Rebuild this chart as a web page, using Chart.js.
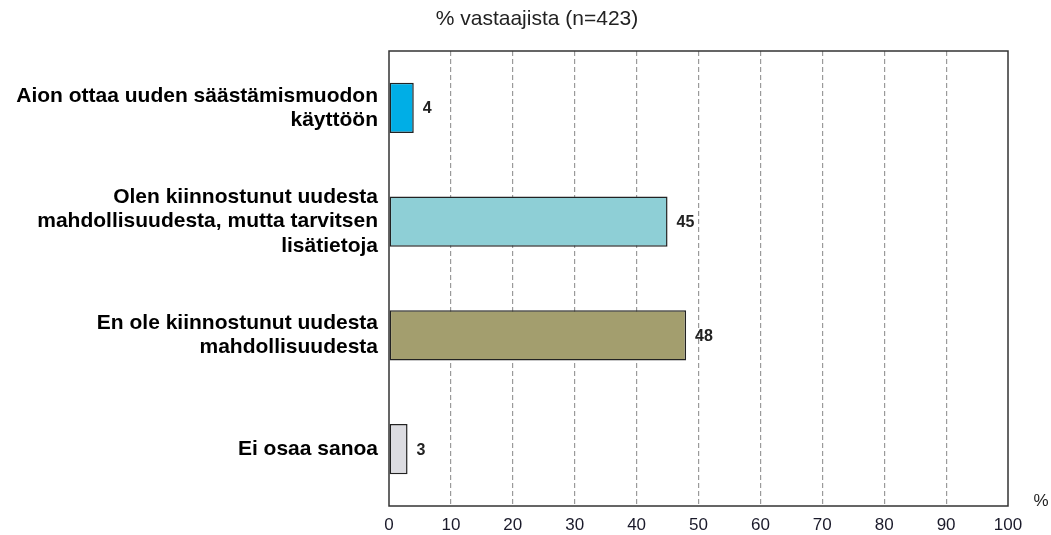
<!DOCTYPE html>
<html><head><meta charset="utf-8">
<script src="https://cdn.jsdelivr.net/npm/chart.js@4"></script>
<style>html,body{margin:0;padding:0;background:#fff}#w{width:1051px;height:535px}</style>
</head><body><div id="w"><canvas id="c" width="1051" height="535" style="width:1051px;height:535px"></canvas></div>
<script>
const categories = [
  ["Aion ottaa uuden säästämismuodon", "käyttöön"],
  ["Olen kiinnostunut uudesta", "mahdollisuudesta, mutta tarvitsen", "lisätietoja"],
  ["En ole kiinnostunut uudesta", "mahdollisuudesta"],
  ["Ei osaa sanoa"]
];
const values = [4, 45, 48, 3];
const barColors = ["#00AEE6", "#8ECFD6", "#A39E6E", "#DCDCE1"];
const xTicks = [0,10,20,30,40,50,60,70,80,90,100];
const titleText = "% vastaajista (n=423)";
const unitText = "%";

const deco = {
  id: 'deco',
  afterDatasetsDraw(chart) {
    const ctx = chart.ctx, a = chart.chartArea;
    ctx.save();
    ctx.strokeStyle = '#333';
    ctx.lineWidth = 1.5;
    ctx.strokeRect(a.left, a.top, a.right - a.left, a.bottom - a.top);
    const meta = chart.getDatasetMeta(0);
    ctx.fillStyle = '#222';
    ctx.font = 'bold 16px "Liberation Sans", Arial, sans-serif';
    ctx.textBaseline = 'middle';
    ctx.textAlign = 'left';
    meta.data.forEach((b, i) => {
      ctx.fillText(String(values[i]), b.x + 9, b.y + 1);
    });
    ctx.font = '21px "Liberation Sans", Arial, sans-serif';
    ctx.fillStyle = '#222';
    ctx.textAlign = 'center';
    ctx.fillText(titleText, 537, 19);
    ctx.font = '17px "Liberation Sans", Arial, sans-serif';
    ctx.fillText(unitText, 1041, 501);
    ctx.restore();
  }
};

new Chart(document.getElementById('c'), {
  type: 'bar',
  data: {
    labels: categories,
    datasets: [{
      data: values,
      backgroundColor: barColors,
      borderColor: '#222',
      borderWidth: 1.5,
      borderSkipped: false,
      barPercentage: 0.44,
      categoryPercentage: 1.0
    }]
  },
  options: {
    indexAxis: 'y',
    responsive: false,
    maintainAspectRatio: false,
    animation: false,
    devicePixelRatio: 1,
    layout: { padding: { left: 0, right: 43, top: 51, bottom: 0 } },
    plugins: { legend: { display: false }, tooltip: { enabled: false } },
    scales: {
      x: {
        min: 0, max: 100,
        afterFit(s) { s.height = 29; },
        afterBuildTicks(s) { s.ticks = xTicks.map(v => ({ value: v })); },
        grid: {
          color: (c) => (c.tick && (c.tick.value === 0 || c.tick.value === 100)) ? 'rgba(0,0,0,0)' : '#9a9a9a',
          lineWidth: 1.2,
          drawTicks: false
        },
        border: { display: false, dash: [5, 3] },
        ticks: {
          color: '#1a1a2a',
          font: { family: '"Liberation Sans", Arial, sans-serif', size: 17 },
          padding: 9,
          maxRotation: 0
        }
      },
      y: {
        afterFit(s) { s.width = 389; s.paddingTop = 0; s.paddingBottom = 0; },
        grid: { display: false, drawTicks: false },
        border: { display: false },
        ticks: {
          color: '#000',
          font: { family: '"Liberation Sans", Arial, sans-serif', size: 21, weight: 'bold', lineHeight: 1.15 },
          padding: 11
        }
      }
    }
  },
  plugins: [deco]
});
</script>
</body></html>
